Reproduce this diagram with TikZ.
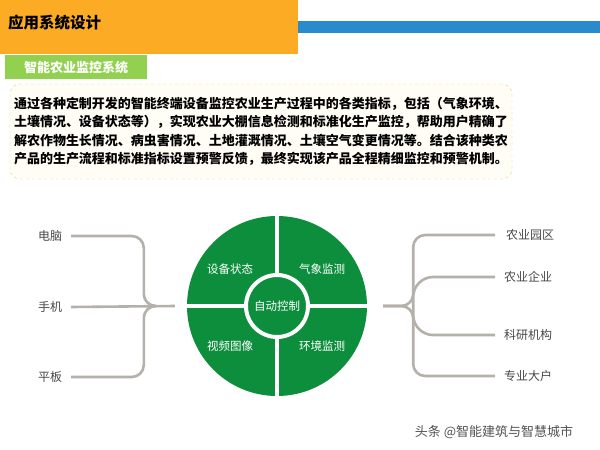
\documentclass[tikz,border=0pt]{standalone}
\usepackage{fontspec}
\setmainfont{Noto Sans CJK SC}
\usetikzlibrary{positioning}
\definecolor{headorange}{RGB}{251,172,36}
\definecolor{barblue}{RGB}{41,139,204}
\definecolor{subgreen}{RGB}{146,208,80}
\definecolor{hubgreen}{RGB}{12,142,60}
\definecolor{bracegray}{RGB}{180,176,170}
\definecolor{dashorange}{RGB}{250,196,100}
\definecolor{introfill}{RGB}{255,253,246}

\begin{document}
\begin{tikzpicture}[x=1pt, y=-1pt,
  lbl/.style={font=\fontsize{12}{14}\selectfont, text=black!72, inner sep=1pt},
  sect/.style={font=\fontsize{11.5}{14}\selectfont, text=white, inner sep=1pt},
  brace/.style={draw=bracegray, line width=2.6pt, rounded corners=12pt}]
\useasboundingbox (0,0) rectangle (600,450);
% header
\fill[barblue] (298,21) rectangle (600,33);
\fill[headorange] (0,0) rectangle (298,54);
\node[anchor=west, inner sep=0, font=\bfseries\fontsize{15.5}{18}\selectfont] (title) at (8,23) {应用系统设计};
\node[fill=subgreen, minimum width=142, minimum height=24, anchor=north west, inner sep=0, text=white, font=\bfseries\fontsize{13}{15}\selectfont] (subtitle) at (5,55) {智能农业监控系统};
\node[draw=dashorange, dashed, fill=introfill, rounded corners=10pt, minimum width=502, minimum height=95, align=left, inner sep=0, font=\bfseries\fontsize{13}{18.5}\selectfont] (intro) at (261,131.5)
  {通过各种定制开发的智能终端设备监控农业生产过程中的各类指标，包括（气象环境、\\
   土壤情况、设备状态等），实现农业大棚信息检测和标准化生产监控，帮助用户精确了\\
   解农作物生长情况、病虫害情况、土地灌溉情况、土壤空气变更情况等。结合该种类农\\
   产品的生产流程和标准指标设置预警反馈，最终实现该产品全程精细监控和预警机制。};
% wheel
\node[circle, fill=hubgreen, minimum size=180, inner sep=0] (hub) at (277,306) {};
\draw[white, line width=4pt] (hub.north) -- (hub.south) (hub.west) -- (hub.east);
\node[circle, fill=hubgreen, draw=white, line width=4pt, minimum size=62, inner sep=0, sect] (core) at (hub) {自动控制};
\node[sect] (devstate) at (230,269) {设备状态}; \node[sect] (weather) at (322,269) {气象监测};
\node[sect] (video) at (230,346) {视频图像}; \node[sect] (envir) at (322,346) {环境监测};
% terminals
\node[lbl] (pc) at (50,236) {电脑}; \node[lbl] (phone) at (50,307) {手机}; \node[lbl] (pad) at (50,377) {平板};
\coordinate[left=12pt of hub] (lend); \coordinate[left=31pt of hub] (ltip); \coordinate[left=43pt of hub] (lknee);
\draw[brace] ([xshift=8pt]pc.east) -| (lknee) -- (ltip);
\draw[brace] ([xshift=8pt]pad.east) -| (lknee) -- (ltip);
\draw[brace] ([xshift=8pt]phone.east) -- (lend);
% users
\node[lbl, anchor=west] (park) at (505,235) {农业园区}; \node[lbl, anchor=west] (firm) at (503,277) {农业企业};
\node[lbl, anchor=west] (lab) at (503,335) {科研机构}; \node[lbl, anchor=west] (farmer) at (503,376) {专业大户};
\coordinate[right=16pt of hub] (rtip); \coordinate[right=46pt of hub] (rknee);
\draw[brace] (rtip) -- (rknee) |- ([xshift=-10pt]park.west);
\draw[brace] (rtip) -- (rknee) |- ([xshift=-8pt]farmer.west);
\draw[brace, rounded corners=20pt] (rknee) |- ([xshift=-8pt]firm.west);
\draw[brace, rounded corners=20pt] (rknee) |- ([xshift=-8pt]lab.west);
\node[font=\fontsize{13}{15}\selectfont, text=black!68] (credit) at (494,432) {头条 @智能建筑与智慧城市};
\end{tikzpicture}
\end{document}
